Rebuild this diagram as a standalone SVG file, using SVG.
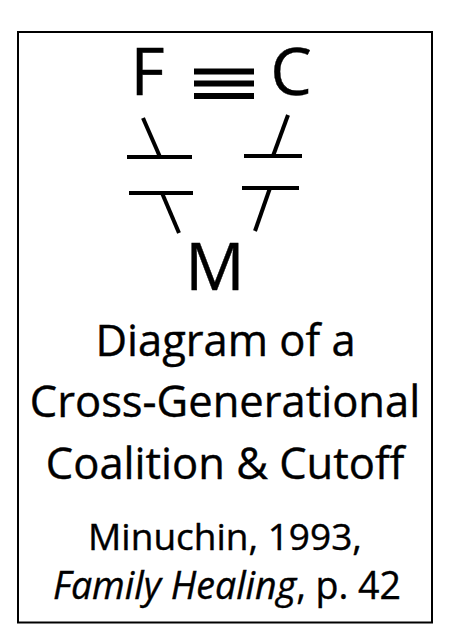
<svg xmlns="http://www.w3.org/2000/svg" width="464" height="633" viewBox="0 0 464 633">
<style>
.t{font-family:"Open Sans","Noto Sans","Liberation Sans",sans-serif;fill:#000;text-anchor:middle;stroke:#000;stroke-width:0.4}
.ln{stroke:#000;stroke-width:4;fill:none;stroke-linecap:butt}
</style>
<rect x="0" y="0" width="464" height="633" fill="#fff"/>
<rect id="frame" x="18" y="32" width="414" height="590.5" fill="none" stroke="#000" stroke-width="2"/>
<g id="node-F"><text class="t" x="147.5" y="95" font-size="66">F</text></g>
<g id="node-C"><text class="t" x="291" y="95" font-size="66">C</text></g>
<g id="node-M"><text class="t" x="215" y="290" font-size="66">M</text></g>
<g id="connectors">
<g id="FC-coalition" fill="#000">
<rect x="194" y="68.5" width="60" height="6"/>
<rect x="194" y="80.5" width="60" height="6"/>
<rect x="194" y="93" width="60" height="6"/>
</g>
<g id="FM-cutoff">
<line class="ln" x1="143" y1="118" x2="160" y2="157"/>
<line class="ln" x1="127" y1="157" x2="192" y2="157"/>
<line class="ln" x1="129" y1="193" x2="193" y2="193"/>
<line class="ln" x1="162" y1="193" x2="179" y2="233"/>
</g>
<g id="CM-cutoff">
<line class="ln" x1="288" y1="115" x2="273" y2="156"/>
<line class="ln" x1="244" y1="156" x2="302" y2="156"/>
<line class="ln" x1="242" y1="188" x2="299" y2="188"/>
<line class="ln" x1="270" y1="188" x2="255" y2="231"/>
</g>
</g>
<g id="caption">
<text class="t" x="225.5" y="356" font-size="43.5">Diagram of a</text>
<text class="t" x="225" y="417" font-size="43.5">Cross-Generational</text>
<text class="t" x="225" y="479" font-size="43.5">Coalition &amp; Cutoff</text>
<text class="t" x="225" y="550" font-size="37">Minuchin, 1993,</text>
<text class="t" x="227" y="599" font-size="37.5"><tspan font-style="italic">Family Healing</tspan>, p. 42</text>
</g>
</svg>
